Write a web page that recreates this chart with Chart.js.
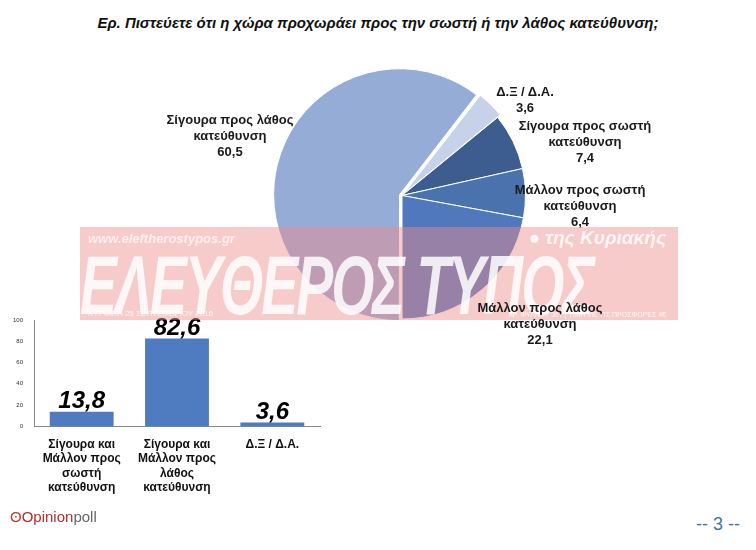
<!DOCTYPE html>
<html><head><meta charset="utf-8">
<script src="https://cdn.jsdelivr.net/npm/chart.js@4"></script>
<style>
body{margin:0;width:756px;height:550px;background:#fff;position:relative;overflow:hidden;font-family:"Liberation Sans Narrow","Liberation Sans",sans-serif;}
.t{position:absolute;text-align:center;font-size:13px;font-weight:bold;color:#1a1a1a;line-height:16px;}
#title{position:absolute;top:14px;left:0;width:756px;text-align:center;font:italic bold 15px "Liberation Sans",sans-serif;color:#111;}
#band{position:absolute;left:80px;top:227px;width:598px;height:93px;background:rgba(240,140,140,0.45);pointer-events:none;overflow:hidden;}
#band .big{position:absolute;left:0px;top:10px;font:italic bold 84px "Liberation Sans",sans-serif;color:rgba(255,255,255,0.85);letter-spacing:-3px;white-space:nowrap;transform:scaleX(0.66);transform-origin:left top;}
#band .url{position:absolute;left:8px;top:4px;font:italic bold 13px "Liberation Sans";color:rgba(255,255,255,0.7);}
#band .kyr{position:absolute;right:12px;top:0px;font:italic bold 19px "Liberation Sans";color:rgba(255,255,255,0.85);}
#band .d1{position:absolute;left:8px;bottom:2px;font:8px "Liberation Sans";color:rgba(255,255,255,0.8);}
#band .d2{position:absolute;right:12px;bottom:2px;font:7px "Liberation Sans";color:rgba(255,255,255,0.8);}
</style></head><body>
<div id="title">Ερ. Πιστεύετε ότι η χώρα προχωράει προς την σωστή ή την λάθος κατεύθυνση;</div>
<div style="position:absolute;left:267px;top:58px;width:270px;height:275px"><canvas id="pie"></canvas></div>
<div style="position:absolute;left:0;top:308px;width:330px;height:190px"><canvas id="bar"></canvas></div>
<div class="t" style="left:150px;top:112px;width:160px">Σίγουρα προς λάθος<br>κατεύθυνση<br>60,5</div>
<div class="t" style="left:480px;top:84px;width:90px">Δ.Ξ / Δ.Α.<br>3,6</div>
<div class="t" style="left:510px;top:118px;width:150px">Σίγουρα προς σωστή<br>κατεύθυνση<br>7,4</div>
<div class="t" style="left:510px;top:182px;width:140px">Μάλλον προς σωστή<br>κατεύθυνση<br>6,4</div>
<div id="band"><div class="url">www.eleftherostypos.gr</div><div class="kyr">● της Κυριακής</div><div class="big">ΕΛΕΥΘΕΡΟΣ ΤΥΠΟΣ</div><div class="d1">ΚΥΡΙΑΚΗ 25 ΣΕΠΤΕΜΒΡΙΟΥ 2016</div><div class="d2">ΑΡ. ΦΥΛΛΟΥ 357 | ΤΙΜΗ ΜΕ ΤΙΣ ΠΡΟΣΦΟΡΕΣ 4€</div></div>
<div class="t" style="left:460px;top:300px;width:160px">Μάλλον προς λάθος<br>κατεύθυνση<br>22,1</div>
<div style="position:absolute;left:10px;top:508px;font:15px 'Liberation Sans';color:#c0392b">ʘ<span style="color:#b03030">Opinion</span><span style="color:#666">poll</span></div>
<div style="position:absolute;right:16px;top:514px;font:18px 'Liberation Sans';color:#4a6fa5">-- 3 --</div>
<script>
const pieLabels = ["Σίγουρα προς λάθος κατεύθυνση", "Δ.Ξ / Δ.Α.", "Σίγουρα προς σωστή κατεύθυνση", "Μάλλον προς σωστή κατεύθυνση", "Μάλλον προς λάθος κατεύθυνση"];
const pieValues = [60.5, 3.6, 7.4, 6.4, 22.1];
const pieColors = ["#95acd6", "#c6d2ea", "#3d5c8f", "#4a72ad", "#4f78bd"];

const barLabels = [["Σίγουρα και", "Μάλλον προς", "σωστή", "κατεύθυνση"], ["Σίγουρα και", "Μάλλον προς", "λάθος", "κατεύθυνση"], "Δ.Ξ / Δ.Α."];
const barValues = [13.8, 82.6, 3.6];
const yTicks = [0, 20, 40, 60, 80, 100];

new Chart(document.getElementById("pie"), {
  type: "pie",
  data: {
    labels: pieLabels,
    datasets: [{
      data: pieValues,
      backgroundColor: pieColors,
      borderColor: "#fff",
      borderWidth: 1,
      offset: [10, 8, 0, 0, 0],
    }],
  },
  options: {
    animation: false,
    maintainAspectRatio: false,
    rotation: 180,
    layout: { padding: 6 },
    plugins: { legend: { display: false }, tooltip: { enabled: false } },
  },
});

const valueLabels = {
  id: "valueLabels",
  afterDatasetsDraw(chart) {
    const ctx = chart.ctx;
    ctx.save();
    ctx.font = "italic bold 24px 'Liberation Sans Narrow', 'Liberation Sans'";
    ctx.fillStyle = "#000";
    ctx.textAlign = "center";
    chart.getDatasetMeta(0).data.forEach((b, i) => {
      ctx.fillText(String(barValues[i]).replace(".", ","), b.x, b.y - 4);
    });
    ctx.restore();
  },
};

new Chart(document.getElementById("bar"), {
  type: "bar",
  data: { labels: barLabels, datasets: [{ data: barValues, backgroundColor: "#4f7cc0", categoryPercentage: 0.67, barPercentage: 1 }] },
  options: {
    animation: false,
    maintainAspectRatio: false,
    layout: { padding: { top: 12, right: 10, left: 10 } },
    plugins: { legend: { display: false }, tooltip: { enabled: false } },
    scales: {
      x: {
        grid: { display: false },
        border: { color: "#888" },
        ticks: { color: "#111", font: { size: 12, weight: "bold", family: "'Liberation Sans Narrow', 'Liberation Sans'" }, maxRotation: 0 },
      },
      y: {
        min: 0, max: 100,
        afterBuildTicks: (s) => { s.ticks = yTicks.map((v) => ({ value: v })); },
        grid: { display: false },
        border: { color: "#888" },
        ticks: { color: "#333", font: { size: 6 } },
      },
    },
  },
  plugins: [valueLabels],
});
</script>
</body></html>
